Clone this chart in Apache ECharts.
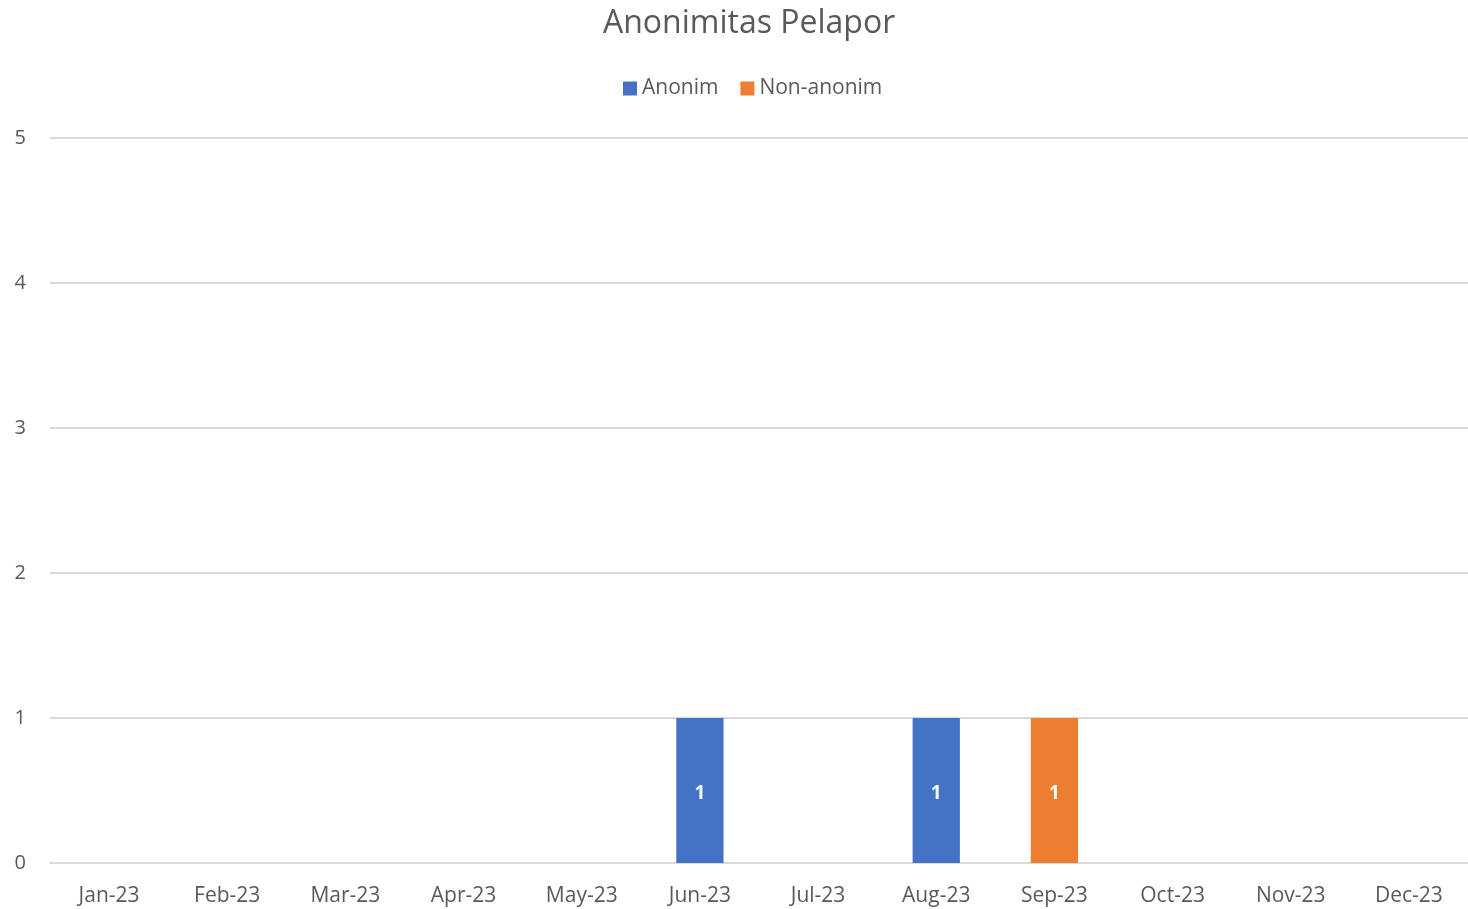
<!DOCTYPE html>
<html>
<head>
<meta charset="utf-8">
<script src="https://cdn.jsdelivr.net/npm/echarts@6/dist/echarts.min.js"></script>
<style>
html,body{margin:0;padding:0;background:#fff;}
#chart{width:1468px;height:909px;}
</style>
</head>
<body>
<div id="chart"></div>
<script>
var months = ['Jan-23','Feb-23','Mar-23','Apr-23','May-23','Jun-23','Jul-23','Aug-23','Sep-23','Oct-23','Nov-23','Dec-23'];
var anonim = [0,0,0,0,0,1,0,1,0,0,0,0];
var nonAnonim = [0,0,0,0,0,0,0,0,1,0,0,0];

var txt = '#595959';
var fnt = '"Open Sans", "Noto Sans", sans-serif';

var chart = echarts.init(document.getElementById('chart'));

// label only when value is not zero
function lbl(p){ return p.value ? String(p.value) : ''; }

chart.setOption({
  animation: false,
  textStyle: {fontFamily: fnt},
  title: {
    text: 'Anonimitas Pelapor',
    left: 598,
    top: 3,
    textStyle: {color: txt, fontSize: 32, fontWeight: 'normal', fontFamily: fnt}
  },
  legend: {
    top: 73,
    left: 618,
    itemWidth: 14,
    itemHeight: 14,
    itemGap: 22,
    icon: 'rect',
    textStyle: {color: txt, fontSize: 21, fontFamily: fnt},
    data: ['Anonim','Non-anonim']
  },
  grid: {left: 50, right: 0, top: 138, bottom: 46, containLabel: false},
  xAxis: {
    type: 'category',
    data: months,
    axisLine: {lineStyle: {color: '#d9d9d9', width: 2}},
    axisTick: {show: false},
    axisLabel: {color: txt, fontSize: 21, margin: 23, fontFamily: fnt}
  },
  yAxis: {
    type: 'value',
    min: 0,
    max: 5,
    interval: 1,
    axisLine: {show: false},
    axisTick: {show: false},
    splitLine: {lineStyle: {color: '#d9d9d9', width: 2}},
    axisLabel: {color: txt, fontSize: 20, margin: 24, fontFamily: fnt}
  },
  series: [
    {
      name: 'Anonim',
      type: 'bar',
      stack: 'all',
      data: anonim,
      barWidth: '40%',
      itemStyle: {color: '#4472C4'},
      label: {show: true, position: 'inside', offset: [0, 3], color: '#fff', fontWeight: 'bold', fontSize: 19, fontFamily: fnt, formatter: lbl}
    },
    {
      name: 'Non-anonim',
      type: 'bar',
      stack: 'all',
      data: nonAnonim,
      barWidth: '40%',
      itemStyle: {color: '#ED7D31'},
      label: {show: true, position: 'inside', offset: [0, 3], color: '#fff', fontWeight: 'bold', fontSize: 19, fontFamily: fnt, formatter: lbl}
    }
  ]
});
</script>
</body>
</html>
